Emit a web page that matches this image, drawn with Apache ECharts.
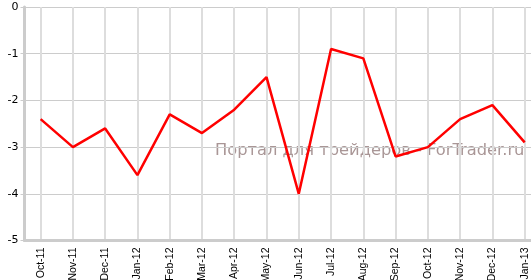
<!DOCTYPE html>
<html><head><meta charset="utf-8">
<script src="https://cdn.jsdelivr.net/npm/echarts@6/dist/echarts.min.js"></script>
<style>html,body{margin:0;padding:0;background:#fff}#c{width:531px;height:280px}</style>
</head><body><div id="c"></div>
<script>
const categories = ['Oct-11','Nov-11','Dec-11','Jan-12','Feb-12','Mar-12','Apr-12','May-12','Jun-12','Jul-12','Aug-12','Sep-12','Oct-12','Nov-12','Dec-12','Jan-13'];
const values = [-2.4,-3.0,-2.6,-3.6,-2.3,-2.7,-2.2,-1.5,-4.0,-0.9,-1.1,-3.2,-3.0,-2.4,-2.1,-2.9];
const yTicks = [0,-1,-2,-3,-4,-5];
const watermark = 'Портал для трейдеров - ForTrader.ru';

const chart = echarts.init(document.getElementById('c'), null, {renderer:'canvas'});
chart.setOption({
  animation:false,
  backgroundColor:'#fff',
  grid:{left:24.5, top:7, width:516.3, height:233.5, containLabel:false, outerBoundsMode:'none'},
  graphic:[{
    type:'text', left:215, top:143, z:0, silent:true,
    style:{text:watermark, font:'16.3px "DejaVu Sans"', fill:'rgba(140,115,115,0.75)'}
  }],
  xAxis:{
    type:'category', data:categories, boundaryGap:true,
    axisLine:{onZero:false, lineStyle:{color:'#cccccc', width:3}},
    axisTick:{alignWithLabel:true, length:4, lineStyle:{color:'#cccccc', width:2}},
    axisLabel:{rotate:90, color:'#000', fontFamily:'Liberation Sans', fontSize:10.5, margin:7, interval:0},
    splitLine:{show:true, alignWithLabel:true, lineStyle:{color:'#dddddd', width:2}}
  },
  yAxis:{
    type:'value', min:-5, max:0, interval:1,
    axisLine:{show:true, lineStyle:{color:'#cccccc', width:3}},
    axisTick:{show:true, length:4, lineStyle:{color:'#cccccc', width:1}},
    axisLabel:{color:'#000', fontFamily:'DejaVu Sans', fontSize:11, margin:6},
    splitLine:{show:true, lineStyle:{color:'#cccccc', width:1}}
  },
  series:[{
    type:'line', data:values, showSymbol:false, symbol:'none', z:5,
    lineStyle:{color:'#ff0000', width:2.5}
  }]
});
</script>
</body></html>
